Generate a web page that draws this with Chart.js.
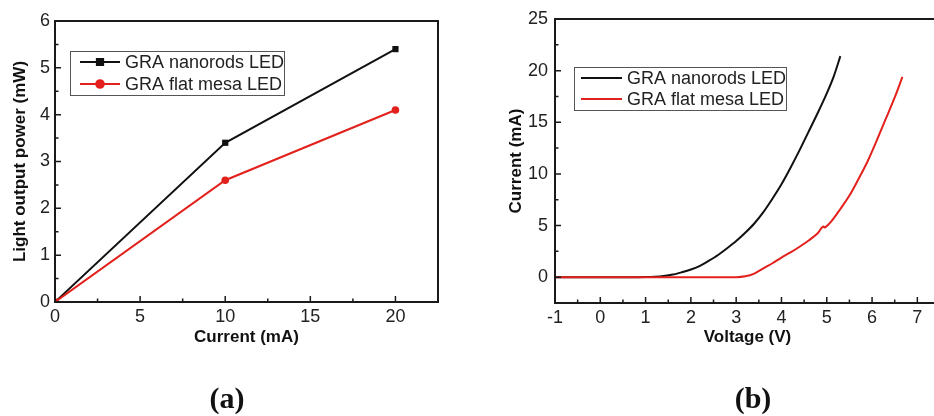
<!DOCTYPE html>
<html>
<head>
<meta charset="utf-8">
<script src="https://cdn.jsdelivr.net/npm/chart.js@4.4.1/dist/chart.umd.min.js"></script>
<style>
    html, body { margin: 0; padding: 0; width: 934px; height: 416px; overflow: hidden; background: #fff; }
    canvas { position: absolute; top: 0; }
    .panel { position: absolute; top: 381px; width: 80px; text-align: center; line-height: 30px;
             font: bold 30px "Liberation Serif", "Times New Roman", serif; color: #111; }
</style>
</head>
<body>
<canvas id="chartA" width="460" height="416" style="left:0"></canvas>
<canvas id="chartB" width="482" height="416" style="left:460px"></canvas>
<div class="panel" style="left:187px">(a)</div>
<div class="panel" style="left:713px">(b)</div>
<script>
// ===== panel (a): light output power vs current =====
var currentA = [0, 10, 20];
var nanorodsPower = [0, 3.4, 5.4];
var flatMesaPower = [0, 2.6, 4.1];
var aXMajor = [0, 5, 10, 15, 20];
var aXMinor = [2.5, 7.5, 12.5, 17.5];
var aYMajor = [0, 1, 2, 3, 4, 5, 6];
var aYMinor = [0.5, 1.5, 2.5, 3.5, 4.5, 5.5];

// ===== panel (b): I-V curves =====
var nanorodsV = [-1, 0.7, 1.0, 1.2, 1.4, 1.6, 1.8, 2.0, 2.2, 2.4, 2.6, 2.8, 3.0, 3.2, 3.4, 3.6, 3.8, 4.0, 4.2, 4.4, 4.6, 4.8, 5.0, 5.15, 5.3];
var nanorodsI = [0, 0, 0.02, 0.05, 0.12, 0.25, 0.48, 0.75, 1.1, 1.6, 2.15, 2.8, 3.5, 4.3, 5.2, 6.3, 7.6, 9.0, 10.6, 12.3, 14.1, 15.9, 17.8, 19.4, 21.4];
var flatV = [-1, 3.0, 3.2, 3.4, 3.6, 3.8, 4.0, 4.2, 4.4, 4.6, 4.8, 4.93, 4.95, 5.0, 5.1, 5.3, 5.5, 5.7, 5.9, 6.1, 6.3, 6.5, 6.67];
var flatI = [0, 0, 0.08, 0.35, 0.85, 1.35, 1.9, 2.4, 2.95, 3.55, 4.25, 4.9, 4.8, 4.95, 5.4, 6.6, 7.9, 9.5, 11.2, 13.2, 15.3, 17.4, 19.4];
var bXMajor = [-1, 0, 1, 2, 3, 4, 5, 6, 7];
var bXMinor = [-0.5, 0.5, 1.5, 2.5, 3.5, 4.5, 5.5, 6.5];
var bYMajor = [0, 5, 10, 15, 20, 25];
var bYMinor = [2.5, 7.5, 12.5, 17.5, 22.5];

var seriesNames = ['GRA nanorods LED', 'GRA flat mesa LED'];
var BLACK = '#111111';
var RED = '#e3211c';
var FONT = '"Liberation Sans", Arial, sans-serif';

Chart.defaults.font.family = FONT;
Chart.defaults.font.size = 18;
Chart.defaults.color = '#222';

function pairs(xs, ys) {
    return xs.map(function(x, i) { return { x: x, y: ys[i] }; });
}
function fixTicks(arr) {
    return function(scale) { scale.ticks = arr.map(function(v) { return { value: v }; }); };
}

// frame + inward tick marks on bottom and left
var frameTicks = {
    id: 'frameTicks',
    afterDatasetsDraw: function(chart, args, o) {
        var ctx = chart.ctx, a = chart.chartArea, x = chart.scales.x, y = chart.scales.y;
        ctx.save();
        ctx.strokeStyle = '#1a1a1a';
        ctx.lineWidth = 1.5;
        ctx.beginPath();
        o.xMajor.forEach(function(v) { var p = x.getPixelForValue(v); ctx.moveTo(p, a.bottom); ctx.lineTo(p, a.bottom - 6); });
        o.xMinor.forEach(function(v) { var p = x.getPixelForValue(v); ctx.moveTo(p, a.bottom); ctx.lineTo(p, a.bottom - 3.5); });
        o.yMajor.forEach(function(v) { var p = y.getPixelForValue(v); ctx.moveTo(a.left, p); ctx.lineTo(a.left + 6, p); });
        o.yMinor.forEach(function(v) { var p = y.getPixelForValue(v); ctx.moveTo(a.left, p); ctx.lineTo(a.left + 3.5, p); });
        ctx.stroke();
        ctx.lineWidth = 2;
        ctx.strokeRect(a.left, a.top, a.right - a.left, a.bottom - a.top);
        ctx.restore();
    }
};

// boxed legend inside the plot
var boxLegend = {
    id: 'boxLegend',
    afterDraw: function(chart, args, o) {
        var ctx = chart.ctx;
        ctx.save();
        ctx.fillStyle = '#fff';
        ctx.fillRect(o.box[0], o.box[1], o.box[2], o.box[3]);
        ctx.strokeStyle = '#555';
        ctx.lineWidth = 1;
        ctx.strokeRect(o.box[0] + 0.5, o.box[1] + 0.5, o.box[2], o.box[3]);
        ctx.font = '18px ' + FONT;
        ctx.textBaseline = 'middle';
        chart.data.datasets.forEach(function(ds, i) {
            var yy = o.rows[i];
            ctx.strokeStyle = ds.borderColor;
            ctx.lineWidth = 2;
            ctx.beginPath();
            ctx.moveTo(o.lineX[0], yy);
            ctx.lineTo(o.lineX[1], yy);
            ctx.stroke();
            if (ds.pointRadius > 0) {
                ctx.fillStyle = ds.borderColor;
                Chart.helpers.drawPoint(ctx, { pointStyle: ds.pointStyle, radius: ds.pointRadius, rotation: 0, borderWidth: 1 },
                    (o.lineX[0] + o.lineX[1]) / 2, yy);
            }
            ctx.fillStyle = '#222';
            ctx.fillText(ds.label, o.textX, yy + 1);
        });
        ctx.restore();
    }
};

function axisX(min, max, ticks, title, pad, h) {
    return {
        type: 'linear', min: min, max: max,
        grid: { display: false, drawTicks: false }, border: { display: false },
        ticks: { padding: pad, color: '#222', font: { size: 18 } },
        afterBuildTicks: fixTicks(ticks),
        afterFit: function(s) { s.height = h; },
        title: { display: true, text: title, color: '#111', font: { size: 17, weight: 'bold' }, padding: { bottom: 68 } }
    };
}
function axisY(min, max, ticks, title, pad, w, tpad) {
    return {
        type: 'linear', min: min, max: max,
        grid: { display: false, drawTicks: false }, border: { display: false },
        ticks: { padding: pad, color: '#222', font: { size: 18 } },
        afterBuildTicks: fixTicks(ticks),
        afterFit: function(s) { s.width = w; },
        title: { display: true, text: title, color: '#111', font: { size: 17, weight: 'bold' }, padding: { top: tpad } }
    };
}

new Chart(document.getElementById('chartA').getContext('2d'), {
    type: 'scatter',
    data: {
        datasets: [{
            label: seriesNames[0], data: pairs(currentA, nanorodsPower), showLine: true, order: 1,
            borderColor: BLACK, backgroundColor: BLACK, borderWidth: 2,
            pointStyle: 'rect', pointRadius: 4.4, pointBorderWidth: 0
        }, {
            label: seriesNames[1], data: pairs(currentA, flatMesaPower), showLine: true, order: 0,
            borderColor: RED, backgroundColor: RED, borderWidth: 2,
            pointStyle: 'circle', pointRadius: 3.8, pointBorderWidth: 0
        }]
    },
    options: {
        responsive: false, animation: false, devicePixelRatio: 1,
        layout: { padding: { top: 21, right: 22, left: 0, bottom: 0 } },
        plugins: {
            legend: { display: false }, tooltip: { enabled: false },
            frameTicks: { xMajor: aXMajor, xMinor: aXMinor, yMajor: aYMajor, yMinor: aYMinor },
            boxLegend: { box: [70, 51, 214, 44], lineX: [80, 120], textX: 125, rows: [62, 84] }
        },
        scales: {
            x: axisX(0, 22.5, aXMajor, 'Current (mA)', 4, 114),
            y: axisY(0, 6, aYMajor, 'Light output power (mW)', 5, 55, 10)
        }
    },
    plugins: [frameTicks, boxLegend]
});

new Chart(document.getElementById('chartB').getContext('2d'), {
    type: 'scatter',
    data: {
        datasets: [{
            label: seriesNames[0], data: pairs(nanorodsV, nanorodsI), showLine: true, order: 1,
            borderColor: BLACK, borderWidth: 2, pointRadius: 0, tension: 0.3
        }, {
            label: seriesNames[1], data: pairs(flatV, flatI), showLine: true, order: 0,
            borderColor: RED, borderWidth: 2, pointRadius: 0, tension: 0, cubicInterpolationMode: 'monotone'
        }]
    },
    options: {
        responsive: false, animation: false, devicePixelRatio: 1,
        layout: { padding: { top: 19, right: 2, left: 0, bottom: 0 } },
        plugins: {
            legend: { display: false }, tooltip: { enabled: false },
            frameTicks: { xMajor: bXMajor, xMinor: bXMinor, yMajor: bYMajor, yMinor: bYMinor },
            boxLegend: { box: [114, 67, 212, 43], lineX: [121, 162], textX: 167, rows: [78, 99] }
        },
        scales: {
            x: axisX(-1, 7.5, bXMajor, 'Voltage (V)', 4, 113),
            y: axisY(-2.5, 25, bYMajor, 'Current (mA)', 7, 95, 46)
        }
    },
    plugins: [frameTicks, boxLegend]
});
</script>
</body>
</html>
